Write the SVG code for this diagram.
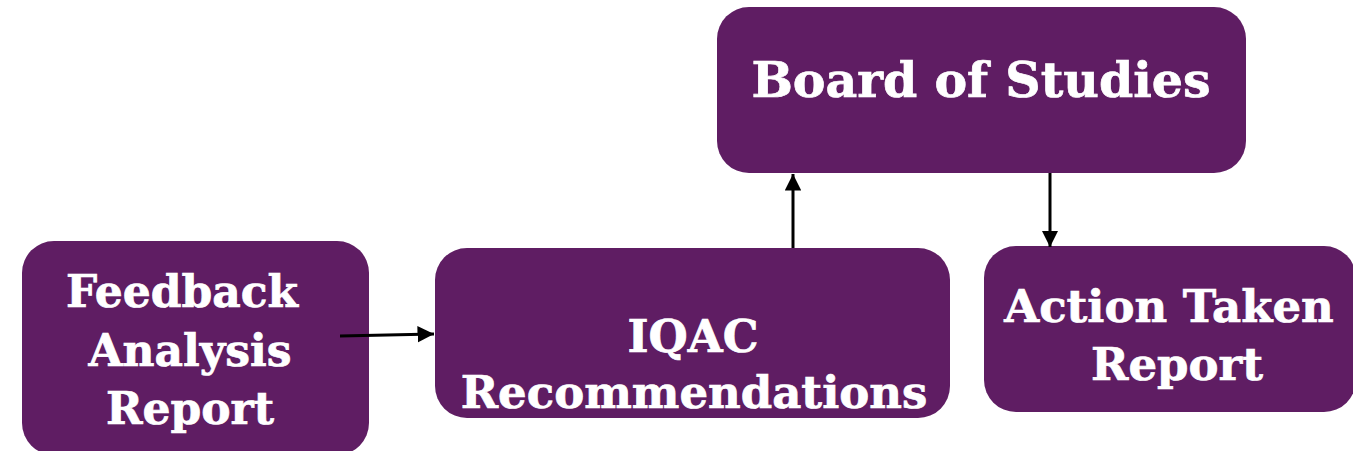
<svg xmlns="http://www.w3.org/2000/svg" width="1353" height="451" viewBox="0 0 1353 451">
<style>
.box{fill:#5f1d63}
.t{font-family:"DejaVu Serif","Liberation Serif",serif;font-weight:bold;fill:#fff;stroke:#fff;stroke-width:0.7;text-anchor:middle}
.c{stroke:#000;stroke-width:3;fill:none}
</style>
<defs>
<marker id="ah" viewBox="0 0 10 10" refX="10" refY="5" markerWidth="5.5" markerHeight="5.5" markerUnits="strokeWidth" orient="auto">
<path d="M0,0 L10,5 L0,10 z" fill="#000"/>
</marker>
</defs>
<rect width="1353" height="451" fill="#fff"/>
<g id="feedback">
<rect class="box" x="22" y="241" width="347" height="214" rx="32"/>
<text class="t" font-size="44"><tspan x="182" y="307">Feedback</tspan><tspan x="190" y="366">Analysis</tspan><tspan x="190" y="424">Report</tspan></text>
</g>
<g id="iqac">
<rect class="box" x="435" y="248" width="515" height="170" rx="32"/>
<text class="t" font-size="45"><tspan x="693" y="352">IQAC</tspan><tspan x="694" y="408">Recommendations</tspan></text>
</g>
<g id="bos">
<rect class="box" x="717" y="7" width="529" height="166" rx="32"/>
<text class="t" font-size="49" x="981" y="97">Board of Studies</text>
</g>
<g id="atr">
<rect class="box" x="984" y="246" width="372" height="166" rx="32"/>
<text class="t" font-size="45"><tspan x="1169" y="322">Action Taken</tspan><tspan x="1177" y="380">Report</tspan></text>
</g>
<g id="connectors">
<line class="c" x1="340" y1="336" x2="434" y2="334" marker-end="url(#ah)"/>
<line class="c" x1="793" y1="248" x2="793" y2="174" marker-end="url(#ah)"/>
<line class="c" x1="1050" y1="173" x2="1050" y2="247" marker-end="url(#ah)"/>
</g>
</svg>
